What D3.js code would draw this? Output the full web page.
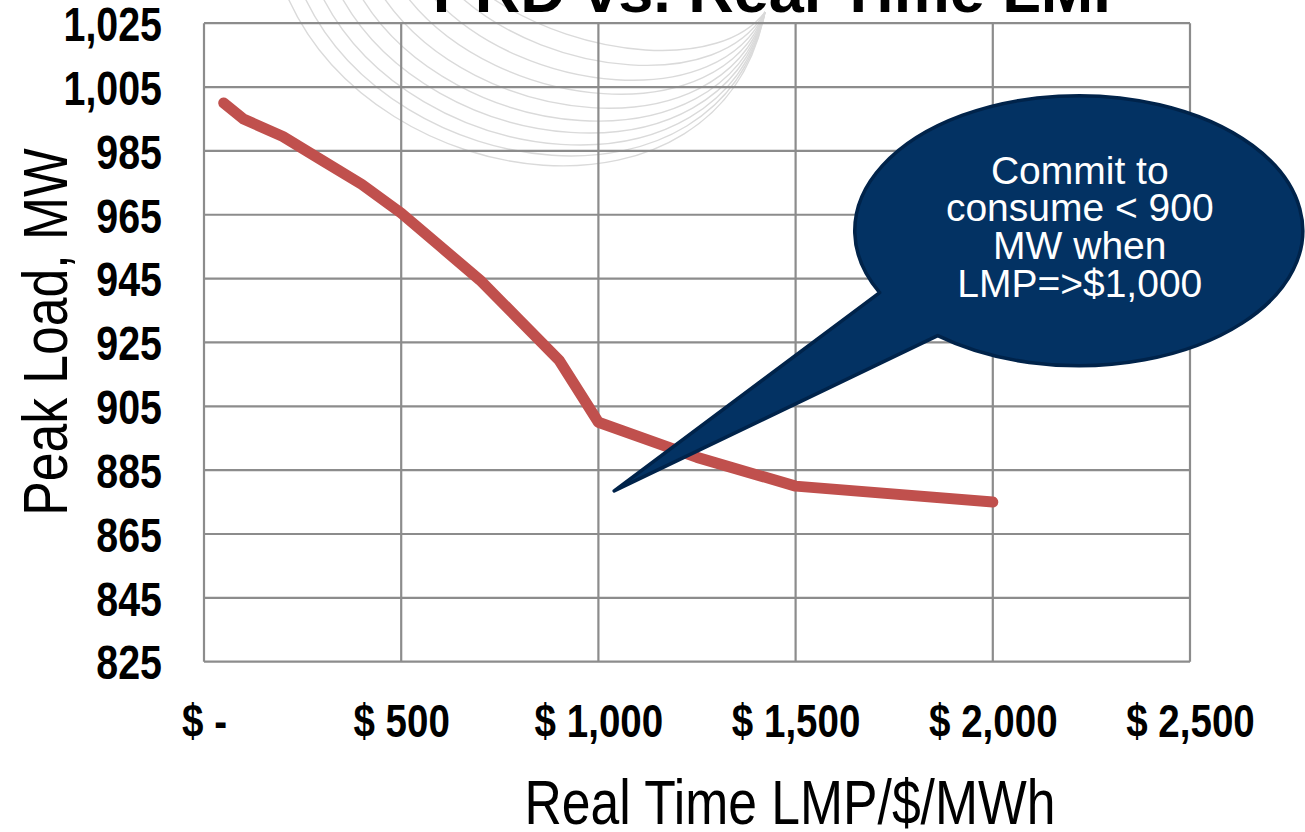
<!DOCTYPE html>
<html>
<head>
<meta charset="utf-8">
<script src="https://cdn.jsdelivr.net/npm/d3@7"></script>
<style>
  html, body { margin: 0; padding: 0; background: #ffffff; }
  svg { display: block; }
</style>
</head>
<body>
<script>
// ---- data ----
const lmp = [50, 100, 200, 300, 400, 500, 600, 700, 800, 900, 1000, 1250, 1500, 2000];
const peakLoad = [1000, 995, 989.5, 982, 974.5, 965.5, 955, 944.5, 932, 919.5, 900, 889, 880, 875];
const xTicks = [0, 500, 1000, 1500, 2000, 2500];
const yTicks = [825, 845, 865, 885, 905, 925, 945, 965, 985, 1005, 1025];
const titleText = "PRD vs. Real Time LMP";
const xTitle = "Real Time LMP/$/MWh";
const yTitle = "Peak Load, MW";
const calloutLines = ["Commit to", "consume < 900", "MW when", "LMP=>$1,000"];
// callout anchor (data units): tip and bubble centre
const calloutTip = [1040, 878.5];
const calloutCenter = [2218, 960];
const calloutRadius = [568, 42.3];
const calloutBase = [[1749, 942], [1897, 930.5]];

const W = 1305, H = 832;
const svg = d3.select("body").append("svg").attr("width", W).attr("height", H);

const x = d3.scaleLinear().domain([0, 2500]).range([204, 1190]);
const y = d3.scaleLinear().domain([825, 1025]).range([661.7, 23.2]);

const grid = "#8c8c8c";
const sans = "'Liberation Sans', Arial, sans-serif";
const NARROW = 0.82; // Arial Narrow look

// ---- decorative background arcs ----
const deco = svg.append("g").attr("fill", "none").attr("stroke", "#dadada").attr("stroke-width", 1.4);
const arcStarts = [288, 305, 323, 342, 362, 384, 408, 434, 462, 492];
const arcDepths = [165, 155, 144, 132, 120, 107, 93, 79, 64, 49];
arcStarts.forEach((sx, i) => {
  const d = arcDepths[i];
  const ex = 765, ey = 12;
  deco.append("path")
    .attr("d", `M${sx},-2 C${sx + 90},${d * 1.2} ${720},${d * 1.45} ${ex},${ey}`);
});

// ---- gridlines ----
const g = svg.append("g");
g.selectAll("line.h").data(yTicks).join("line")
  .attr("x1", x(0)).attr("x2", x(2500))
  .attr("y1", d => y(d)).attr("y2", d => y(d))
  .attr("stroke", grid).attr("stroke-width", 2.2);
g.selectAll("line.v").data(xTicks).join("line")
  .attr("y1", y(825)).attr("y2", y(1025))
  .attr("x1", d => x(d)).attr("x2", d => x(d))
  .attr("stroke", grid).attr("stroke-width", 2.2);

// ---- y tick labels ----
const yAxis = d3.axisLeft(y).tickValues(yTicks).tickFormat(d3.format(",")).tickSize(0).tickPadding(0);
const ya = svg.append("g").attr("transform", "translate(162,0)").call(yAxis);
ya.select(".domain").remove();
ya.selectAll("text")
  .attr("font-family", sans).attr("font-weight", "bold").attr("font-size", 48)
  .attr("fill", "#000").attr("dy", "0.36em").attr("x", 0)
  .attr("transform", `scale(${NARROW},1)`);

// ---- x tick labels ----
const fmt = d3.format(",");
const xAxis = d3.axisBottom(x).tickValues(xTicks)
  .tickFormat(d => d === 0 ? "$ -" : "$ " + fmt(d)).tickSize(0).tickPadding(0);
const xa = svg.append("g").attr("transform", "translate(0,737)").call(xAxis);
xa.select(".domain").remove();
xa.selectAll("text")
  .attr("font-family", sans).attr("font-weight", "bold").attr("font-size", 47)
  .attr("fill", "#000").attr("dy", 0).attr("y", 0)
  .attr("transform", `scale(${NARROW},1)`);

// ---- axis titles ----
svg.append("text").attr("transform", `translate(790,824) scale(${NARROW},1)`).attr("text-anchor", "middle")
  .attr("font-family", sans).attr("font-size", 63).attr("fill", "#000").text(xTitle);
svg.append("text").attr("transform", `translate(67,332) rotate(-90) scale(${NARROW},1)`).attr("text-anchor", "middle")
  .attr("font-family", sans).attr("font-size", 63).attr("fill", "#000").text(yTitle);

// ---- chart title (partially cut off at top) ----
svg.append("text").attr("x", 784).attr("y", 12).attr("text-anchor", "middle")
  .attr("font-family", sans).attr("font-weight", "bold").attr("font-size", 63)
  .attr("fill", "#000").text(titleText);

// ---- data line ----
const line = d3.line().x((d, i) => x(lmp[i])).y(d => y(d));
svg.append("path").datum(peakLoad)
  .attr("d", line).attr("fill", "none")
  .attr("stroke", "#C0504D").attr("stroke-width", 11)
  .attr("stroke-linecap", "round").attr("stroke-linejoin", "round");

// ---- callout ----
const cx = x(calloutCenter[0]), cy = y(calloutCenter[1]);
const rx = x(calloutRadius[0]) - x(0), ry = y(825) - y(825 + calloutRadius[1]);
function onEllipse(p) {
  const px = x(p[0]), py = y(p[1]);
  const a = Math.atan2((py - cy) / ry, (px - cx) / rx);
  return [cx + rx * Math.cos(a), cy + ry * Math.sin(a)];
}
const A = onEllipse(calloutBase[0]);
const B = onEllipse(calloutBase[1]);
const tip = [x(calloutTip[0]), y(calloutTip[1])];
const path = `M${A[0]},${A[1]} A${rx},${ry} 0 1 1 ${B[0]},${B[1]} L${tip[0]},${tip[1]} Z`;
svg.append("path").attr("d", path)
  .attr("fill", "#033263").attr("stroke", "#00234a").attr("stroke-width", 3.5)
  .attr("stroke-linejoin", "round");

svg.append("g").selectAll("text").data(calloutLines).join("text")
  .attr("x", cx + 1).attr("y", (d, i) => 183.5 + i * 37.8)
  .attr("text-anchor", "middle").attr("font-family", sans).attr("font-size", 39)
  .attr("fill", "#ffffff").text(d => d);
</script>
</body>
</html>
